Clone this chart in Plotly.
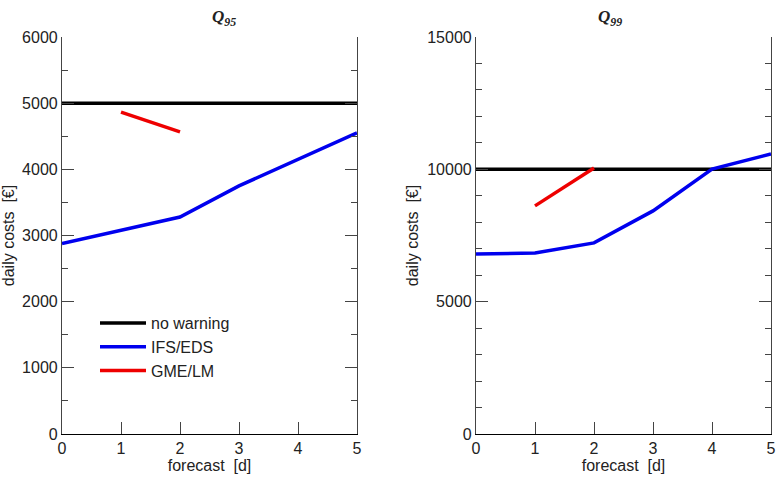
import plotly.graph_objects as go
from plotly.subplots import make_subplots

lead_days = [0, 1, 2, 3, 4, 5]
gme_days = [1, 2]

q95_no_warning = [5000, 5000, 5000, 5000, 5000, 5000]
q95_ifs = [2880, 3080, 3280, 3750, 4150, 4550]
q95_gme = [4865, 4565]

q99_no_warning = [10000, 10000, 10000, 10000, 10000, 10000]
q99_ifs = [6800, 6840, 7220, 8430, 10010, 10580]
q99_gme = [8620, 10050]

titles = ["<b><i>Q</i></b><sub><b><i>95</i></b></sub>", "<b><i>Q</i></b><sub><b><i>99</i></b></sub>"]

fig = make_subplots(rows=1, cols=2)

FONT = "Liberation Sans, Arial, sans-serif"
FS = 16

for col, (nw, ifs, gme) in enumerate([(q95_no_warning, q95_ifs, q95_gme),
                                      (q99_no_warning, q99_ifs, q99_gme)], start=1):
    show = col == 1
    fig.add_trace(go.Scatter(x=lead_days, y=nw, mode="lines", name="no warning",
                             line=dict(color="black", width=3.5), showlegend=show), row=1, col=col)
    fig.add_trace(go.Scatter(x=lead_days, y=ifs, mode="lines", name="IFS/EDS",
                             line=dict(color="#0000ee", width=3.5), showlegend=show), row=1, col=col)
    fig.add_trace(go.Scatter(x=gme_days, y=gme, mode="lines", name="GME/LM",
                             line=dict(color="#ee0000", width=3.5), showlegend=show), row=1, col=col)

ydom = [1 - 434 / 478, 1 - 37 / 478]
xd1 = [62 / 781, 357 / 781]
xd2 = [476 / 781, 771 / 781]

xcommon = dict(range=[0, 5], dtick=1, ticks="inside", ticklen=12, tickwidth=1,
               tickcolor="#444", showline=True, linecolor="black", linewidth=1.2,
               mirror=False, showgrid=False, zeroline=False, automargin=False,
               tickfont=dict(family=FONT, size=FS, color="#222"),
               title=dict(text="forecast  [d]", font=dict(family=FONT, size=FS, color="#222"),
                          standoff=2))
fig.update_xaxes(**xcommon)
fig.update_xaxes(domain=xd1, row=1, col=1)
fig.update_xaxes(domain=xd2, row=1, col=2)

ycommon = dict(ticks="inside", ticklen=12, tickwidth=1, tickcolor="#444",
               showline=True, linecolor="#444", linewidth=1.2, mirror="ticks",
               showgrid=False, zeroline=False, domain=ydom, automargin=False,
               tickformat="d",
               tickfont=dict(family=FONT, size=FS, color="#222"),
               title=dict(text="daily costs  [€]", font=dict(family=FONT, size=FS, color="#222"),
                          standoff=4))
fig.update_yaxes(**ycommon)
fig.update_yaxes(range=[0, 6000], dtick=1000,
                 minor=dict(ticks="inside", ticklen=6, dtick=500, tickcolor="#444"),
                 row=1, col=1)
fig.update_yaxes(range=[0, 15000], dtick=5000,
                 minor=dict(ticks="inside", ticklen=6, dtick=1000, tickcolor="#444"),
                 row=1, col=2)

for i, (t, xd) in enumerate(zip(titles, [xd1, xd2])):
    fig.add_annotation(text=t, xref="paper", yref="paper", x=(xd[0] + xd[1]) / 2,
                       y=1 - 18 / 478, showarrow=False, yanchor="middle",
                       font=dict(family="Liberation Serif, Times New Roman, serif", size=17, color="#222"))

fig.update_layout(
    width=781, height=478,
    margin=dict(l=0, r=0, t=0, b=0),
    paper_bgcolor="white", plot_bgcolor="white",
    font=dict(family=FONT, size=FS, color="#222"),
    legend=dict(x=95 / 781, y=1 - 306 / 478, xanchor="left", yanchor="top",
                bgcolor="rgba(0,0,0,0)", font=dict(family=FONT, size=FS, color="#222"),
                itemwidth=46, tracegroupgap=0),
)

fig.write_html("out.html")
